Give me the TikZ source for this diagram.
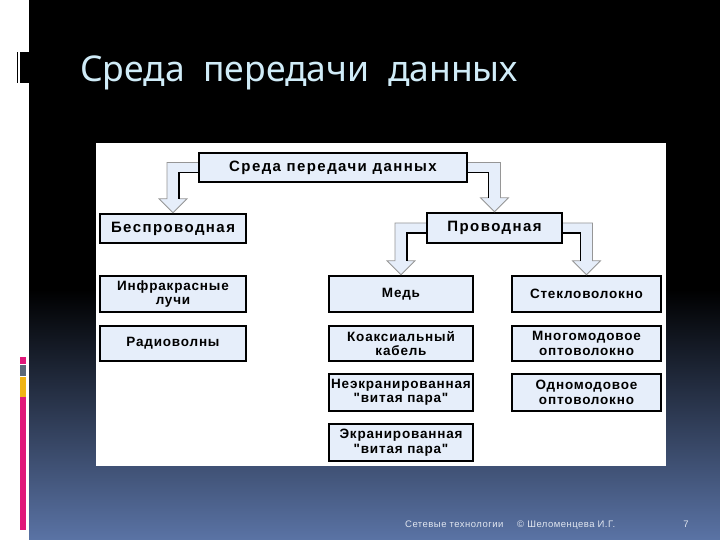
\documentclass[tikz,border=0pt]{standalone}
\usepackage{fontspec}
\setmainfont{Liberation Sans}
\newfontfamily\titlefont{Noto Sans}
\newfontfamily\leaffont[LetterSpace=6]{Liberation Sans}
\newfontfamily\headfont[LetterSpace=9.5]{Liberation Sans}
\newfontfamily\footfont[LetterSpace=5]{Liberation Sans}
\usetikzlibrary{calc}
\definecolor{bgblue}{RGB}{90,115,165}
\definecolor{boxblue}{RGB}{230,238,250}
\definecolor{titlecol}{RGB}{208,236,248}
\definecolor{decpink}{RGB}{224,24,122}
\definecolor{decgray}{RGB}{90,104,120}
\definecolor{decyellow}{RGB}{240,180,20}
\definecolor{arrowgray}{RGB}{150,150,150}
\definecolor{footcol}{RGB}{225,230,240}
\tikzset{
  box/.style={draw=black, line width=2.4pt, fill=boxblue, inner sep=0pt,
    align=center, font=\leaffont\bfseries\fontsize{13.5}{14.5}\selectfont},
  headbox/.style={box, font=\headfont\bfseries\fontsize{15}{17}\selectfont},
  bandfill/.style={fill=boxblue},
  outeredge/.style={draw=arrowgray, line width=0.8pt},
  inneredge/.style={draw=black, line width=1.6pt},
  foot/.style={text=footcol, font=\footfont\fontsize{9.5}{11}\selectfont, inner sep=0pt}
}
% #1 source node, #2 target node, #3 side (west/east), #4 sign (-1 left, 1 right)
\newcommand\elbowarrow[4]{%
  \coordinate (s) at (#1.#3);
  \coordinate (t) at (#2.north);
  \coordinate (c) at (s -| t);
  \fill[bandfill] ($(s)+(0,-5)$) -- ($(c)+(#4*6,-5)$) -- ($(t)+(#4*6,-14)$)
    -- ($(t)+(#4*14,-14)$) -- (t) -- ($(t)+(-#4*14,-14)$) -- ($(t)+(-#4*6,-14)$)
    -- ($(c)+(-#4*6,5)$) -- ($(s)+(0,5)$) -- cycle;
  \draw[outeredge] ($(s)+(0,-5)$) -- ($(c)+(#4*6,-5)$) -- ($(t)+(#4*6,-14)$)
    -- ($(t)+(#4*14,-14)$) -- (t) -- ($(t)+(-#4*14,-14)$) -- ($(t)+(-#4*6,-14)$);
  \draw[inneredge] ($(s)+(0,5)$) -- ($(c)+(-#4*6,5)$) -- ($(t)+(-#4*6,-14)$);
}
\begin{document}
\begin{tikzpicture}[x=1pt,y=-1pt]
\useasboundingbox (0,0) rectangle (720,540);
% background
\fill[white] (0,0) rectangle (720,540);
\fill[black] (29,0) rectangle (720,290);
\shade[top color=black, bottom color=bgblue] (29,289.5) rectangle (720,540);
% left decorations
\fill[black] (16.5,52) rectangle (18,83);
\fill[black] (19.5,52) rectangle (29.5,83);
\fill[decpink] (20,357) rectangle (26,364);
\fill[decgray] (20,365) rectangle (26,376);
\fill[decyellow] (20,377) rectangle (26,396.5);
\fill[decpink] (20,396.5) rectangle (26,530);
% title
\node[anchor=base west, inner sep=0pt, text=titlecol,
  font=\titlefont\fontsize{35.5}{40}\selectfont] (title) at (80,82)
  {Среда\ \ передачи\ \ данных};
% white panel
\fill[white] (96,143) rectangle (666,466);
% boxes
\node[headbox, minimum width=268pt, minimum height=29pt] (top) at (333,167.5) {Среда передачи данных};
\node[headbox, minimum width=146pt, minimum height=29pt] (bes) at (173,228.5) {Беспроводная};
\node[headbox, minimum width=135pt, minimum height=30pt] (pro) at (494.5,228) {Проводная};
\node[box, minimum width=146pt, minimum height=36pt] (ir) at (173,294) {Инфракрасные\\лучи};
\node[box, minimum width=146pt, minimum height=35pt] (radio) at (173,343.5) {Радиоволны};
\node[box, minimum width=144pt, minimum height=36pt] (med) at (401,294) {Медь};
\node[box, minimum width=144pt, minimum height=35pt] (coax) at (401,343.5) {Коаксиальный\\кабель};
\node[box, minimum width=144pt, minimum height=37pt] (utp) at (401,392.5) {Неэкранированная\\"витая пара"};
\node[box, minimum width=144pt, minimum height=37pt] (stp) at (401,442.5) {Экранированная\\"витая пара"};
\node[box, minimum width=149pt, minimum height=36pt] (glass) at (586.5,294) {Стекловолокно};
\node[box, minimum width=149pt, minimum height=35pt] (mm) at (586.5,343.5) {Многомодовое\\оптоволокно};
\node[box, minimum width=149pt, minimum height=37pt] (sm) at (586.5,392.5) {Одномодовое\\оптоволокно};
% arrows
\elbowarrow{top}{bes}{west}{-1}
\elbowarrow{top}{pro}{east}{1}
\elbowarrow{pro}{med}{west}{-1}
\elbowarrow{pro}{glass}{east}{1}
% footer
\node[foot, anchor=base west] (f1) at (405,527) {Сетевые технологии};
\node[foot, anchor=base west] (f2) at (517,527) {© Шеломенцева И.Г.};
\node[foot, anchor=base] (f3) at (686,527) {7};
\end{tikzpicture}
\end{document}
